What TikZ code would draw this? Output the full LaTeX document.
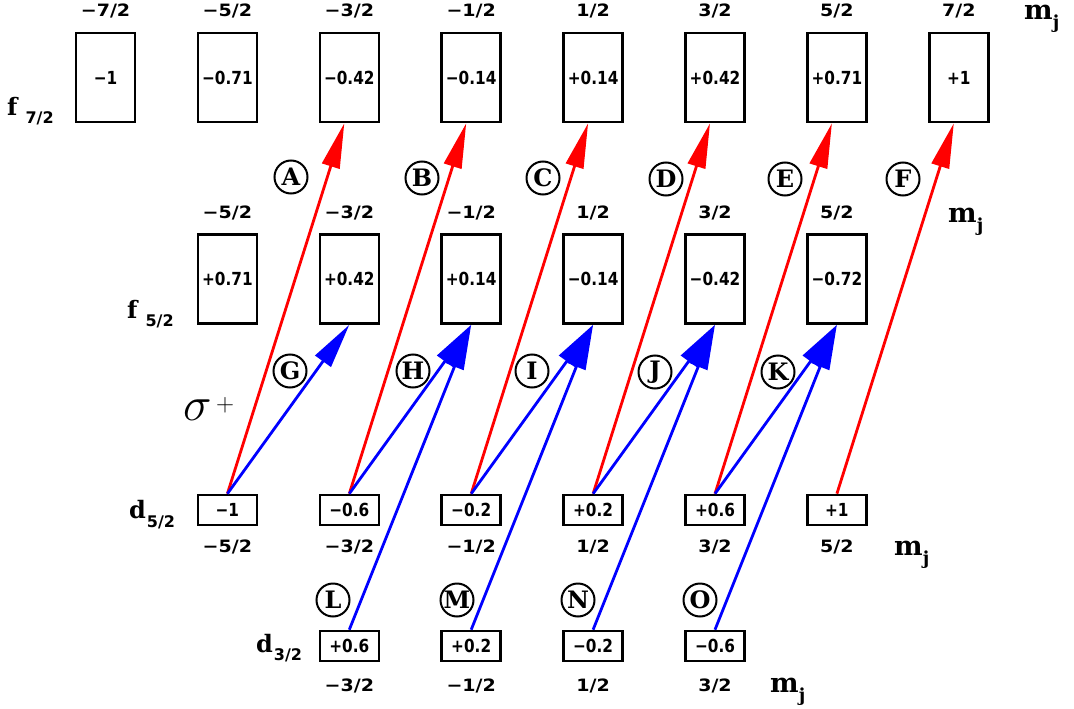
\RequirePackage{fix-cm}
\documentclass[tikz,border=0pt]{standalone}
\usepackage{fontspec}
\usetikzlibrary{arrows.meta}
\newfontfamily\numfont{DejaVu Sans}
\newfontfamily\boxfont{DejaVu Sans}[FakeStretch=0.85]
\newfontfamily\labfont{DejaVu Sans}[FakeStretch=1.12]
\newfontfamily\serf{DejaVu Serif}
\definecolor{myred}{RGB}{255,0,0}
\definecolor{myblue}{RGB}{0,0,255}
\begin{document}
\begin{tikzpicture}[x=1pt,y=-1pt,
  fbox/.style={draw, line width=2.6pt, minimum width=59pt, minimum height=89pt, inner sep=0pt,
    font={\boxfont\bfseries\fontsize{18}{18}\selectfont}},
  dbox/.style={fbox, minimum height=30pt},
  mlab/.style={inner sep=0pt, font={\labfont\bfseries\fontsize{17}{17}\selectfont}},
  circ/.style={circle, draw, line width=2pt, minimum size=33pt, inner sep=0pt,
    font={\serf\bfseries\fontsize{24}{24}\selectfont}},
  lvl/.style={anchor=base west, inner sep=0pt, font={\serf\bfseries\fontsize{24}{24}\selectfont}},
  mj/.style={anchor=base west, inner sep=0pt, font={\serf\bfseries\fontsize{27}{27}\selectfont}},
  redarr/.style={draw=myred, line width=2.8pt, -{Triangle[length=45pt,width=18pt]}},
  bluearr/.style={draw=myblue, line width=2.8pt, -{Triangle[length=45pt,width=19pt]}},
]
\useasboundingbox (0,0) rectangle (1074,709);

% f7/2 row
\foreach \i/\v/\m in {0/{−1}/{−7/2},1/{−0.71}/{−5/2},2/{−0.42}/{−3/2},3/{−0.14}/{−1/2},
                      4/{+0.14}/{1/2},5/{+0.42}/{3/2},6/{+0.71}/{5/2},7/{+1}/{7/2}}{
  \node[fbox] (fa\i) at ({105.5+121.9*\i},77.5) {\v};
  \node[mlab] (fam\i) at ({105.5+121.9*\i},11) {\m};
}
% f5/2 row
\foreach \i/\v/\m in {1/{+0.71}/{−5/2},2/{+0.42}/{−3/2},3/{+0.14}/{−1/2},
                      4/{−0.14}/{1/2},5/{−0.42}/{3/2},6/{−0.72}/{5/2}}{
  \node[fbox] (fb\i) at ({105.5+121.9*\i},279) {\v};
  \node[mlab] (fbm\i) at ({105.5+121.9*\i},213) {\m};
}
% d5/2 row
\foreach \i/\v/\m in {1/{−1}/{−5/2},2/{−0.6}/{−3/2},3/{−0.2}/{−1/2},
                      4/{+0.2}/{1/2},5/{+0.6}/{3/2},6/{+1}/{5/2}}{
  \node[dbox] (da\i) at ({105.5+121.9*\i},510) {\v};
  \node[mlab] (dam\i) at ({105.5+121.9*\i},547) {\m};
}
% d3/2 row
\foreach \i/\v/\m in {2/{+0.6}/{−3/2},3/{+0.2}/{−1/2},4/{−0.2}/{1/2},5/{−0.6}/{3/2}}{
  \node[dbox] (db\i) at ({105.5+121.9*\i},646) {\v};
  \node[mlab] (dbm\i) at ({105.5+121.9*\i},686) {\m};
}

% level labels
\node[lvl] (lf72) at (7,115) {f\hspace{8pt}\raisebox{-8pt}{\numfont\bfseries\fontsize{16}{16}\selectfont 7/2}};
\node[lvl] (lf52) at (127,318) {f\hspace{8pt}\raisebox{-8pt}{\numfont\bfseries\fontsize{16}{16}\selectfont 5/2}};
\node[lvl] (ld52) at (129,518) {d\hspace{1pt}\raisebox{-9pt}{\numfont\bfseries\fontsize{16}{16}\selectfont 5/2}};
\node[lvl] (ld32) at (256,652) {d\hspace{1pt}\raisebox{-8pt}{\numfont\bfseries\fontsize{16}{16}\selectfont 3/2}};

% m_j labels
\node[mj] (mj1) at (1024,20) {m\raisebox{-9pt}{\fontsize{18}{18}\selectfont j}};
\node[mj] (mj2) at (948,222) {m\raisebox{-9pt}{\fontsize{18}{18}\selectfont j}};
\node[mj] (mj3) at (894,555) {m\raisebox{-9pt}{\fontsize{18}{18}\selectfont j}};
\node[mj] (mj4) at (770,692) {m\raisebox{-9pt}{\fontsize{18}{18}\selectfont j}};

% sigma+
\node[anchor=base west, inner sep=0pt] (sig) at (183,420) {\fontsize{48}{48}\selectfont$\sigma$};
\node[inner sep=0pt] (sigp) at (225,405) {\fontsize{25}{25}\selectfont$\mathbf{+}$};

% arrows d5/2 -> f7/2 (red)
\foreach \i in {1,...,6}{
  \pgfmathtruncatemacro\j{\i+1}
  \draw[redarr] (da\i.north) -- ([xshift=-5pt]fa\j.south);
}
% arrows d5/2 -> f5/2 (blue)
\foreach \i in {1,...,5}{
  \pgfmathtruncatemacro\j{\i+1}
  \draw[bluearr] (da\i.north) -- (fb\j.south);
}
% arrows d3/2 -> f5/2 (blue)
\foreach \i in {2,...,5}{
  \pgfmathtruncatemacro\j{\i+1}
  \draw[bluearr] (db\i.north) -- (fb\j.south);
}

% circled letters
\foreach \n/\x/\y in {A/291/177,B/422/178,C/543/178,D/666/179,E/785/179,F/903/179,
                      G/290/371,H/413/371,I/532/371,J/655/372,K/778/372,
                      L/333/600,M/457/600,N/578/600,O/700/600}{
  \node[circ] (c\n) at (\x,\y) {\n};
}
\end{tikzpicture}
\end{document}
